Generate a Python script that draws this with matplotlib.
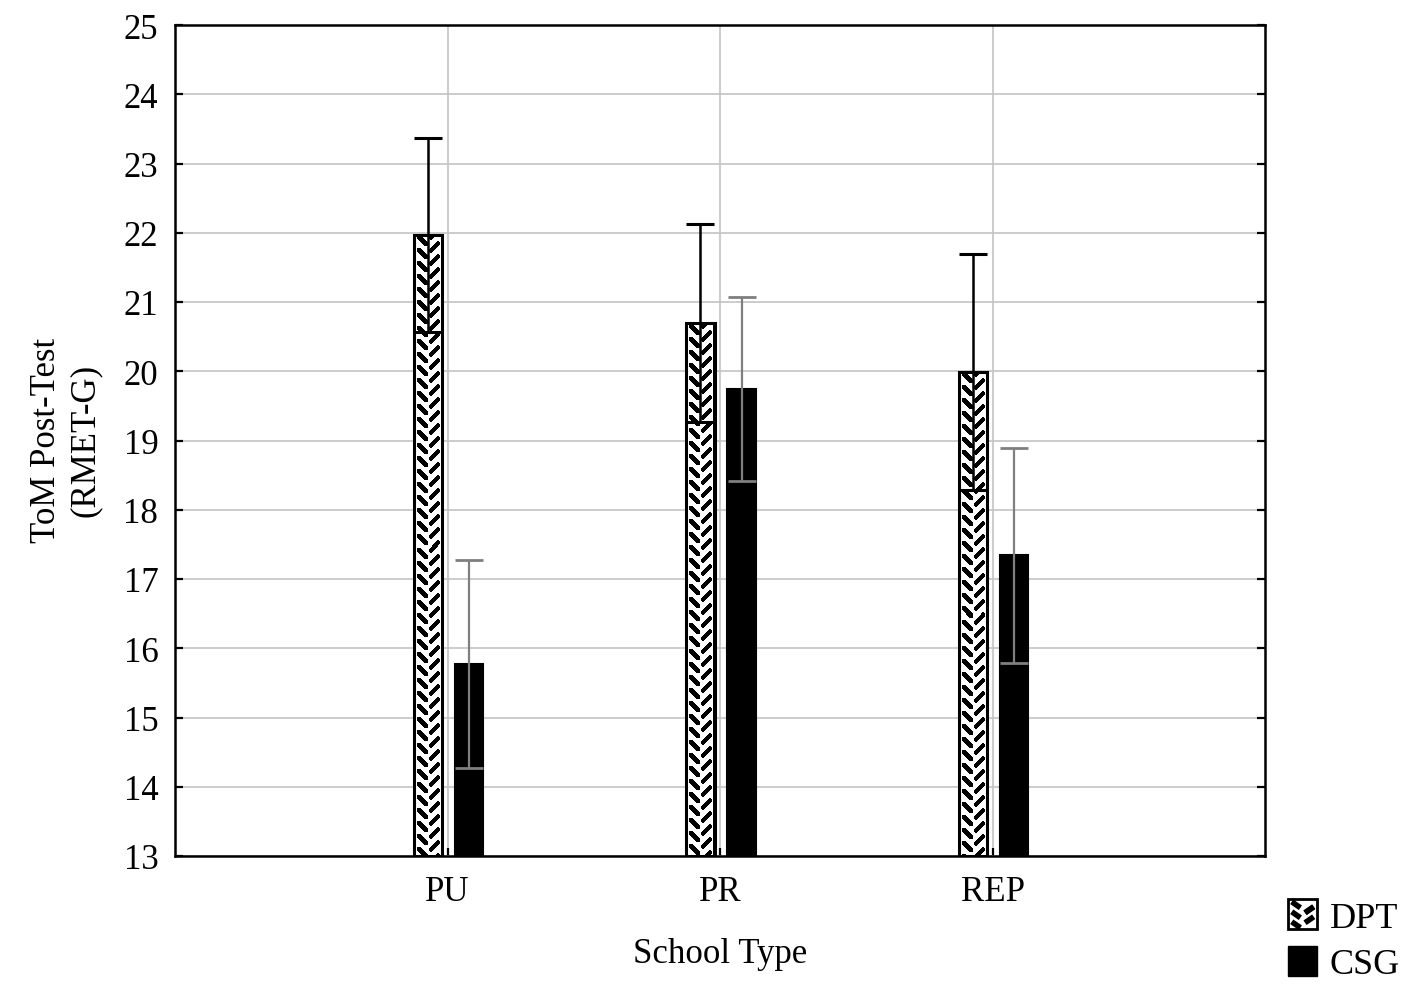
import numpy as np
import matplotlib
matplotlib.use("Agg")
import matplotlib.pyplot as plt
from matplotlib.patches import Rectangle
from matplotlib.lines import Line2D
from matplotlib.legend_handler import HandlerBase

# ---------------- data ----------------
categories = ["PU", "PR", "REP"]
series_names = ["DPT", "CSG"]
dpt_mean = [21.97, 20.69, 19.99]
dpt_err = [1.40, 1.43, 1.70]
csg_mean = [15.77, 19.74, 17.34]
csg_err = [1.50, 1.33, 1.55]
y_ticks = list(range(13, 26))

plt.rcParams["font.family"] = ["Liberation Serif", "DejaVu Serif"]

W, H, DPI = 1417, 995, 100
fig = plt.figure(figsize=(W / DPI, H / DPI), dpi=DPI)
ax = fig.add_axes([175 / W, 138 / H, 1090 / W, 831 / H])

x = np.arange(len(categories))
bw = 0.105
off_dpt, off_csg = -0.072, 0.079

ax.set_xlim(-1, 3)
ax.set_ylim(13, 25)


def texture(hpx, wpx, period=13.0):
    hpx = max(int(round(hpx)), 1)
    wpx = max(int(round(wpx)), 1)
    rr, cc = np.mgrid[0:hpx, 0:wpx].astype(float) + 0.5
    img = np.ones((hpx, wpx))

    def seg_dist(px, py, ax0, ay0, bx, by):
        dx, dy = bx - ax0, by - ay0
        t = ((px - ax0) * dx + (py - ay0) * dy) / (dx * dx + dy * dy)
        t = np.clip(t, 0, 1)
        return np.hypot(px - (ax0 + t * dx), py - (ay0 + t * dy))

    xl, xr = wpx * 0.29, wpx * 0.71
    black = np.zeros_like(img, dtype=bool)
    for k in range(-1, int(hpx / period) + 2):
        yc = k * period + period / 2
        d = seg_dist(cc, rr, xl - 3.6, yc - 3.6, xl + 3.6, yc + 3.6)
        black |= d < 2.2
        yc2 = yc + period / 2
        d2 = seg_dist(cc, rr, xr + 3.6, yc2 - 3.6, xr - 3.6, yc2 + 3.6)
        black |= d2 < 2.2
    # dark side margins
    black |= (cc < 2.5) | (cc > wpx - 2.5)
    img[black] = 0
    return img


# gridlines
ax.set_axisbelow(True)
ax.grid(True, color="#c4c4c4", linewidth=1.2)

# bars
dpt_bars = ax.bar(x + off_dpt, [m - 13 for m in dpt_mean], bottom=13, width=bw,
                  facecolor="white", edgecolor="black", linewidth=2.0, zorder=2)
csg_bars = ax.bar(x + off_csg, [m - 13 for m in csg_mean], bottom=13, width=bw,
                  facecolor="black", edgecolor="black", linewidth=1.5, zorder=2)

# textured fill for DPT bars
for b in dpt_bars:
    x0, y0 = b.get_x(), b.get_y()
    w, h = b.get_width(), b.get_height()
    p0 = ax.transData.transform((x0, y0))
    p1 = ax.transData.transform((x0 + w, y0 + h))
    tex = texture(abs(p1[1] - p0[1]), abs(p1[0] - p0[0]))
    im = ax.imshow(tex, cmap="gray", vmin=0, vmax=1, extent=(x0, x0 + w, y0, y0 + h),
                   origin="upper", interpolation="nearest", aspect="auto", zorder=2.1)
    im.set_clip_path(b)
    ax.add_patch(Rectangle((x0, y0), w, h, fill=False, edgecolor="black",
                           linewidth=2.2, zorder=2.2))

ax.set_aspect("auto")
ax.set_xlim(-1, 3)
ax.set_ylim(13, 25)

# error bars
ax.errorbar(x + off_dpt, dpt_mean, yerr=dpt_err, fmt="none", ecolor="black",
            elinewidth=1.8, capsize=10, capthick=2.2, zorder=3)
ax.errorbar(x + off_csg, csg_mean, yerr=csg_err, fmt="none", ecolor="#7f7f7f",
            elinewidth=1.6, capsize=10, capthick=2.0, zorder=3)

# axes styling
for s in ax.spines.values():
    s.set_linewidth(1.8)
    s.set_color("black")
ax.set_xticks(x)
ax.set_xticklabels(categories, fontsize=25)
ax.set_yticks(y_ticks)
ax.set_yticklabels([str(t) for t in y_ticks], fontsize=25)
ax.tick_params(axis="both", direction="in", length=6, width=1.6, color="black")
ax.tick_params(axis="y", right=True, pad=12)
ax.tick_params(axis="x", pad=14)

fig.text(720 / W, 1 - 955 / H, "School Type", fontsize=25, ha="center", va="center")
fig.text(66 / W, 1 - 440 / H, "ToM Post-Test\n(RMET-G)", fontsize=25, rotation=90,
         ha="center", va="center", multialignment="center")


class PatternHandler(HandlerBase):
    def create_artists(self, legend, orig_handle, xdescent, ydescent, width, height,
                       fontsize, trans):
        arts = [Rectangle((-xdescent, -ydescent), width, height, facecolor="white",
                          edgecolor="black", linewidth=2, transform=trans)]
        n = 3
        for i in range(n):
            yb = -ydescent + height * (i + 0.15) / n
            yt = -ydescent + height * (i + 0.75) / n
            arts.append(Line2D([-xdescent + width * 0.12, -xdescent + width * 0.42],
                               [yt, yb], color="black", lw=4, transform=trans,
                               solid_capstyle="butt"))
            yb2 = yb + height * 0.5 / n
            yt2 = yt + height * 0.5 / n
            if yt2 > -ydescent + height:
                yb2 -= height / n
                yt2 -= height / n
            arts.append(Line2D([-xdescent + width * 0.58, -xdescent + width * 0.88],
                               [yb2, yt2], color="black", lw=4, transform=trans,
                               solid_capstyle="butt"))
        return arts


h_dpt = Rectangle((0, 0), 1, 1, facecolor="white", edgecolor="black")
h_csg = Rectangle((0, 0), 1, 1, facecolor="black", edgecolor="black")
fig.legend([h_dpt, h_csg], series_names, loc="upper left",
           bbox_to_anchor=(1263 / W, 1 - 875 / H), frameon=False, fontsize=26,
           handlelength=0.8, handleheight=0.9, handletextpad=0.35, labelspacing=0.3,
           borderpad=0.2, handler_map={h_dpt: PatternHandler()})

fig.savefig("out.png", dpi=DPI, facecolor="white")
